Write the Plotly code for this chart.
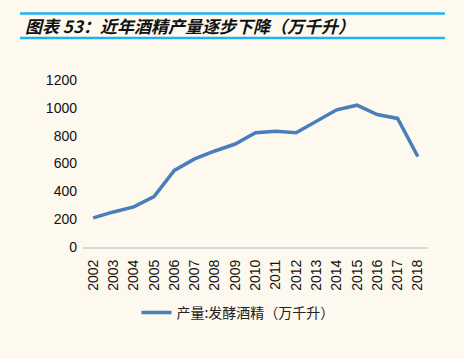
import plotly.graph_objects as go

years = [str(y) for y in range(2002, 2019)]
output = [209, 252, 288, 362, 550, 633, 690, 740, 821, 831, 821, 907, 986, 1019, 952, 924, 650]
y_ticks = [0, 200, 400, 600, 800, 1000, 1200]
series_name = "产量:发酵酒精（万千升）"
title_text = "图表 53：近年酒精产量逐步下降（万千升）"

bg = "#FDF9EF"
fig = go.Figure()
fig.add_trace(go.Scatter(x=years, y=output, mode="lines", name=series_name,
                         line=dict(color="#4A7EBB", width=3.5)))

fig.update_layout(
    width=464, height=359,
    paper_bgcolor=bg, plot_bgcolor=bg,
    margin=dict(l=83, r=36, t=80, b=112),
    showlegend=True,
    legend=dict(orientation="h", x=0.155, y=-0.395, xanchor="left", yanchor="middle",
                font=dict(family="Noto Sans CJK SC", size=14, color="#222"),
                bgcolor="rgba(0,0,0,0)"),
    xaxis=dict(type="category", range=[-0.5, 16.5], tickangle=-90, showgrid=False, showline=True,
               linecolor="#D9D9D9", linewidth=2, ticks="", ticklabelstandoff=5,
               tickfont=dict(family="Liberation Sans", size=14, color="#111")),
    yaxis=dict(range=[0, 1200], tickvals=y_ticks, showgrid=False, zeroline=False,
               showline=False, ticks="", ticklabelstandoff=5,
               tickfont=dict(family="Liberation Sans", size=14, color="#111")),
    font=dict(family="Liberation Sans"),
)

fig.add_shape(type="line", xref="paper", yref="paper", x0=-0.1826, x1=1.049, y0=1.398, y1=1.398,
              line=dict(color="#1FB2F0", width=2.5))
fig.add_shape(type="line", xref="paper", yref="paper", x0=-0.1826, x1=1.049, y0=1.251, y1=1.251,
              line=dict(color="#1FB2F0", width=2.5))
fig.add_annotation(text="<b>" + title_text + "</b>", xref="paper", yref="paper",
                   x=-0.175, y=1.329, xanchor="left", yanchor="middle", showarrow=False,
                   font=dict(family="Noto Sans CJK SC", size=17, color="#111", style="italic"))

fig.write_html("out.html", config={"displayModeBar": False},
               post_script="document.body.style.margin='0';document.body.style.background='%s';" % bg)
